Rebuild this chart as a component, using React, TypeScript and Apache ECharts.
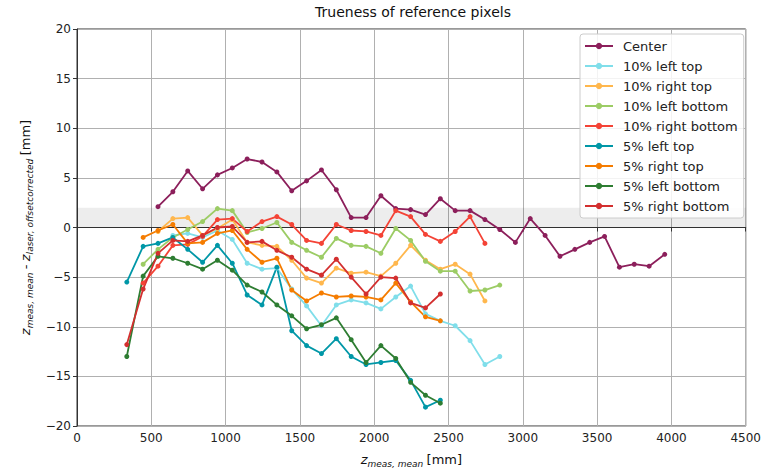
import React, { useEffect, useRef } from 'react';
import * as echarts from 'echarts';

// z_meas,mean positions of the distance bins [mm]
const zMeasMean = [
  335, 445, 545, 645, 745, 845, 945, 1045, 1145, 1245, 1345, 1445, 1545, 1645, 1745, 1845, 1945, 2045,
  2145, 2245, 2345, 2445, 2545, 2645, 2745, 2845, 2950, 3050, 3150, 3250, 3350, 3450, 3550, 3650, 3750,
  3850, 3955,
];

// deviations [mm], aligned with zMeasMean (null = no measurement)
const center = [
  null, null, 2.1, 3.6, 5.7, 3.9, 5.3, 6.0, 6.9, 6.6, 5.6, 3.7, 4.7, 5.8, 3.8, 1.0, 1.0, 3.2, 1.9, 1.8,
  1.3, 2.9, 1.7, 1.7, 0.8, -0.2, -1.5, 0.9, -0.8, -2.9, -2.2, -1.5, -0.9, -4.0, -3.7, -3.9, -2.7,
];
const leftTop10 = [
  null, null, null, -0.8, -0.6, -1.0, -0.3, -1.2, -3.6, -4.2, -4.1, -6.2, -7.9, -9.9, -7.8, -7.3, -7.6,
  -8.2, -7.0, -5.9, -8.7, -9.4, -9.9, -11.4, -13.8, -13.0,
];
const rightTop10 = [
  null, null, -0.4, 0.9, 1.0, -0.8, -0.1, 0.8, -1.5, -1.8, -1.9, -3.3, -5.1, -5.6, -4.1, -4.6, -4.5, -4.9,
  -3.6, -1.8, -3.3, -4.2, -3.7, -4.7, -7.4,
];
const leftBottom10 = [
  null, -3.7, -2.2, -1.0, -0.2, 0.6, 1.9, 1.7, -0.5, -0.1, 0.5, -1.5, -2.3, -3.0, -1.1, -1.8, -1.9, -2.6,
  -0.1, -1.3, -3.4, -4.4, -4.4, -6.4, -6.3, -5.8,
];
const rightBottom10 = [
  null, -5.6, -3.9, -1.8, -1.7, -0.9, 0.8, 0.9, -0.4, 0.6, 1.1, 0.3, -1.3, -1.6, 0.3, -0.3, -0.4, -0.8,
  1.7, 1.1, -0.7, -1.4, -0.4, 1.1, -1.6,
];
const leftTop5 = [
  -5.5, -1.9, -1.6, -1.0, -2.2, -3.5, -1.8, -3.6, -6.8, -7.8, -4.0, -10.4, -11.9, -12.7, -11.2, -13.0,
  -13.8, -13.6, -13.4, -15.4, -18.1, -17.4,
];
const rightTop5 = [
  null, -1.0, -0.3, 0.3, -1.6, -1.5, -0.6, -0.3, -2.2, -3.5, -3.1, -6.3, -7.4, -6.6, -7.0, -6.9, -7.0,
  -7.3, -5.6, -7.5, -9.0, -9.4,
];
const leftBottom5 = [
  -13.0, -4.9, -2.9, -3.1, -3.6, -4.2, -3.3, -4.3, -5.8, -6.5, -7.8, -8.9, -10.2, -9.8, -9.1, -11.3,
  -13.6, -11.9, -13.2, -15.6, -16.9, -17.7,
];
const rightBottom5 = [
  -11.8, -6.2, -2.6, -1.3, -1.4, -0.8, 0.0, 0.1, -1.5, -1.4, -2.3, -3.0, -4.2, -4.8, -3.2, -5.0, -6.7,
  -5.0, -5.1, -7.6, -8.1, -6.7,
];

const seriesNames = [
  'Center',
  '10% left top',
  '10% right top',
  '10% left bottom',
  '10% right bottom',
  '5% left top',
  '5% right top',
  '5% left bottom',
  '5% right bottom',
];
const seriesValues = [
  center, leftTop10, rightTop10, leftBottom10, rightBottom10, leftTop5, rightTop5, leftBottom5, rightBottom5,
];
const seriesColors = [
  '#8c1f5b', '#80deea', '#ffb74d', '#9ccc65', '#f44336', '#0097a7', '#f57c00', '#2e7d32', '#d32f2f',
];

// tolerance band [mm]
const bandLow = 0;
const bandHigh = 2;

const FONT = 'DejaVu Sans';

const App: React.FC = () => {
  const chartRef = useRef<HTMLDivElement>(null);

  useEffect(() => {
    if (!chartRef.current) return;
    document.body.style.margin = '0';
    const chart = echarts.init(chartRef.current, null, { renderer: 'svg' });

    const nameRich = {
      z: { fontSize: 13, fontStyle: 'italic' as const, fontFamily: FONT, color: '#111', lineHeight: 18, verticalAlign: 'middle' as const },
      s: { fontSize: 9, fontStyle: 'italic' as const, fontFamily: FONT, color: '#111', lineHeight: 10, verticalAlign: 'bottom' as const },
      n: { fontSize: 13, fontFamily: FONT, color: '#111', lineHeight: 18, verticalAlign: 'middle' as const },
    };

    const option: echarts.EChartsOption = {
      animation: false,
      backgroundColor: '#ffffff',
      title: {
        text: 'Trueness of reference pixels',
        left: 413,
        textAlign: 'center',
        top: 5,
        padding: 0,
        textStyle: { fontFamily: FONT, fontSize: 14, fontWeight: 'normal', color: '#111' },
      },
      grid: {
        left: 77,
        right: 15,
        top: 29,
        bottom: 44,
        show: true,
        borderColor: '#333',
        borderWidth: 1,
      },
      legend: {
        data: seriesNames,
        orient: 'vertical',
        left: 580,
        top: 34,
        padding: [5, 6, 5, 4],
        itemWidth: 28,
        itemHeight: 8,
        itemGap: 6,
        backgroundColor: 'rgba(255,255,255,0.85)',
        borderColor: '#cccccc',
        borderWidth: 1,
        borderRadius: 3,
        textStyle: { fontFamily: FONT, fontSize: 13, color: '#222', lineHeight: 14, padding: [0, 0, 0, 5] },
      },
      xAxis: {
        type: 'value',
        min: 0,
        max: 4500,
        interval: 500,
        name: '{z|z}{s|meas, mean} {n|[mm]}',
        nameLocation: 'middle',
        nameGap: 24,
        nameTextStyle: { rich: nameRich },
        axisLine: { show: true, lineStyle: { color: '#333', width: 1 } },
        axisTick: { show: true, length: 4, lineStyle: { color: '#333' } },
        axisLabel: { fontFamily: FONT, fontSize: 12, color: '#222', margin: 6, formatter: (v: number) => String(v) },
        splitLine: { show: true, lineStyle: { color: '#b0b0b0', width: 1 } },
      },
      yAxis: {
        type: 'value',
        min: -20,
        max: 20,
        interval: 5,
        name: '{z|z}{s|meas, mean} {n|-} {z|z}{s|laser, offsetcorrected} {n|[mm]}',
        nameLocation: 'middle',
        nameRotate: 90,
        nameGap: 38,
        nameTextStyle: { rich: nameRich },
        axisLine: { show: true, lineStyle: { color: '#333', width: 1 } },
        axisTick: { show: true, length: 4, lineStyle: { color: '#333' } },
        axisLabel: {
          fontFamily: FONT,
          fontSize: 12,
          color: '#222',
          margin: 6,
          formatter: (v: number) => (v < 0 ? '\u2212' + Math.abs(v) : String(v)),
        },
        splitLine: { show: true, lineStyle: { color: '#b0b0b0', width: 1 } },
      },
      series: seriesNames.map((name, si) => ({
        name,
        type: 'line' as const,
        data: seriesValues[si]
          .map((v, i) => (v === null ? null : [zMeasMean[i], v]))
          .filter((d) => d !== null) as number[][],
        symbol: 'circle',
        symbolSize: 5,
        showSymbol: true,
        color: seriesColors[si],
        lineStyle: { width: 1.8, color: seriesColors[si] },
        itemStyle: { color: seriesColors[si] },
        ...(si === 0
          ? {
              markArea: {
                silent: true,
                itemStyle: { color: 'rgba(0,0,0,0.07)' },
                data: [[{ yAxis: bandLow }, { yAxis: bandHigh }]],
              },
            }
          : {}),
      })),
    };

    chart.setOption(option);
    return () => {
      chart.dispose();
    };
  }, []);

  return <div ref={chartRef} style={{ width: '764px', height: '473px' }} />;
};

export default App;
